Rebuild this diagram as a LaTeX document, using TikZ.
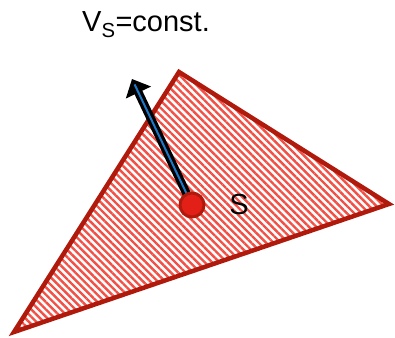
\documentclass[tikz,border=0pt]{standalone}
\usepackage{fontspec}
\setmainfont{Liberation Sans}
\usetikzlibrary{arrows.meta,patterns.meta,positioning}
\definecolor{edgered}{RGB}{176,26,12}
\definecolor{hatchred}{RGB}{242,80,70}
\definecolor{dotred}{RGB}{226,32,24}
\definecolor{shaftblue}{RGB}{30,120,200}

\begin{document}
\begin{tikzpicture}[x=1pt,y=-1pt,tag/.style={font=\fontsize{29}{33}\selectfont,inner sep=0pt,anchor=base},plate/.style={draw=edgered,line width=4.5pt,line join=miter,pattern={Lines[angle=-45,distance=5.2pt,line width=2.4pt]},pattern color=hatchred},point/.style={circle,fill=dotred,draw=edgered,line width=3pt,minimum size=24pt,inner sep=0pt}]
\useasboundingbox (0,0) rectangle (395,337);
\coordinate (top) at (179,72);
\coordinate (right) at (389,204);
\coordinate (left) at (14,332);
\draw[plate] (top)--(right)--(left)--cycle;
\coordinate (sc) at (192,205);
\coordinate (tip) at (132,79);
\draw[line width=8.5pt,-{Triangle[length=15pt,width=27pt]}] (sc)--(tip);
\draw[shaftblue,line width=2pt,shorten >=6pt] (sc)--(tip);
\node[point] (s) at (sc) {};
\node[tag] (sname) at (239,214) {S};
\node[tag] (vs) at (146,32) {V\textsubscript{S}=const.};
\end{tikzpicture}
\end{document}
